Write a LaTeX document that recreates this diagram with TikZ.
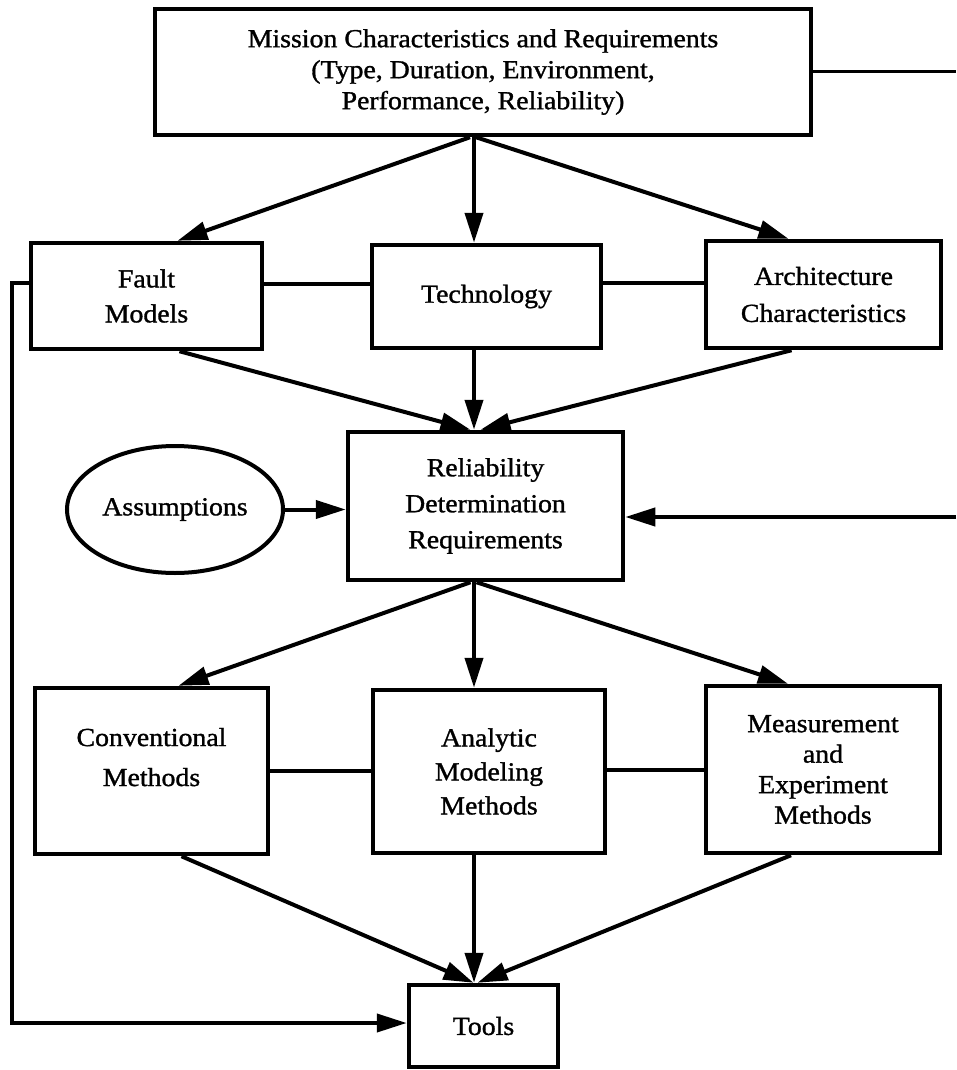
\documentclass[tikz,border=0pt]{standalone}
\usepackage{fontspec}
\setmainfont{Liberation Serif}[FakeStretch=1.07,FakeBold=1.2]
\usetikzlibrary{arrows.meta,shapes.geometric}

\tikzset{
  box/.style={draw, line width=4.5pt, rectangle, align=center, inner sep=0pt},
  oval/.style={draw, line width=4pt, ellipse, inner sep=0pt},
  link/.style={line width=4pt},
  arr/.style={line width=4pt, -{Triangle[length=30pt,width=18pt]}},
  lbl/.style={font=\fontsize{26}{#1}\selectfont},
}

\begin{document}
\begin{tikzpicture}[x=1pt,y=-1pt]
\useasboundingbox (0,0) rectangle (956,1070);

% boxes
\node[box, lbl=31, minimum width=656pt, minimum height=126pt] (top) at (483,72)
  {Mission Characteristics and Requirements\\(Type, Duration, Environment,\\Performance, Reliability)};
\node[box, lbl=35, minimum width=231pt, minimum height=106pt] (fault) at (146.5,296) {Fault\\Models};
\node[box, lbl=35, minimum width=229pt, minimum height=103pt] (tech) at (486.5,296.5) {Technology};
\node[box, lbl=37, minimum width=235pt, minimum height=107pt] (arch) at (823.5,294.5) {Architecture\\Characteristics};
\node[box, lbl=36, minimum width=275pt, minimum height=148pt] (rel) at (485.5,506) {Reliability\\Determination\\Requirements};
\node[oval, lbl=32, minimum width=216pt, minimum height=127pt] (assume) at (175,509.5) {Assumptions};
% the empty last row lifts the two text lines towards the top of the box
\node[box, lbl=40, minimum width=233pt, minimum height=166pt] (conv) at (151.5,771) {Conventional\\Methods\\[-12pt]\mbox{}};
\node[box, lbl=34, minimum width=232pt, minimum height=163pt] (ana) at (489,771.5) {Analytic\\Modeling\\Methods};
\node[box, lbl=30.5, minimum width=234pt, minimum height=167pt] (meas) at (823,769.5) {Measurement\\and\\Experiment\\Methods};
\node[box, lbl=32, minimum width=149pt, minimum height=82pt] (tools) at (483.5,1026) {Tools};

% helper points
\coordinate (sx) at (474,0);
\coordinate (toR) at (956,72);
\coordinate (fb) at (956,517);
\coordinate (lt) at (12,283);
\coordinate (lb) at (12,1023);

% mission to the first row
\draw[arr] ([xshift=-13pt]top.south) -- ([xshift=31pt]fault.north);
\draw[arr] (top.south -| sx) -- (tech.north -| sx);
\draw[arr] ([xshift=-7pt]top.south) -- ([xshift=-35pt]arch.north);
\draw[link, line width=3pt] (top.east |- toR) -- (toR);

% first row side links
\draw[link] ([yshift=12pt]fault.east) -- ([yshift=12pt]fault.east -| tech.west);
\draw[link] ([yshift=13.5pt]tech.east) -- ([yshift=13.5pt]tech.east -| arch.west);

% first row to reliability requirements
\draw[arr] ([xshift=33pt]fault.south) -- ([xshift=-15pt]rel.north);
\draw[arr] (tech.south -| sx) -- (rel.north -| sx);
\draw[arr] ([xshift=-32pt]arch.south) -- ([xshift=-5pt]rel.north);
\draw[arr] (assume.east) -- (rel.west |- assume.east);
\draw[arr] (fb) -- (rel.east |- fb);

% reliability requirements to methods
\draw[arr] ([xshift=-15pt]rel.south) -- ([xshift=27pt]conv.north);
\draw[arr] (rel.south -| sx) -- (ana.north -| sx);
\draw[arr] ([xshift=-9pt]rel.south) -- ([xshift=-35pt]meas.north);

% methods side links
\draw[link] (conv.east) -- (conv.east -| ana.west);
\draw[link] ([yshift=1.5pt]ana.east) -- ([yshift=1.5pt]ana.east -| meas.west);

% methods to tools
\draw[arr] ([xshift=30pt]conv.south) -- ([xshift=-10pt]tools.north);
\draw[arr] (ana.south -| sx) -- (tools.north -| sx);
\draw[arr] ([xshift=-32pt]meas.south) -- ([xshift=-6pt]tools.north);

% fault models loop to tools
\draw[arr, line join=miter] (lt -| fault.west) -- (lt) -- (lb) -- (lb -| tools.west);
\end{tikzpicture}
\end{document}
